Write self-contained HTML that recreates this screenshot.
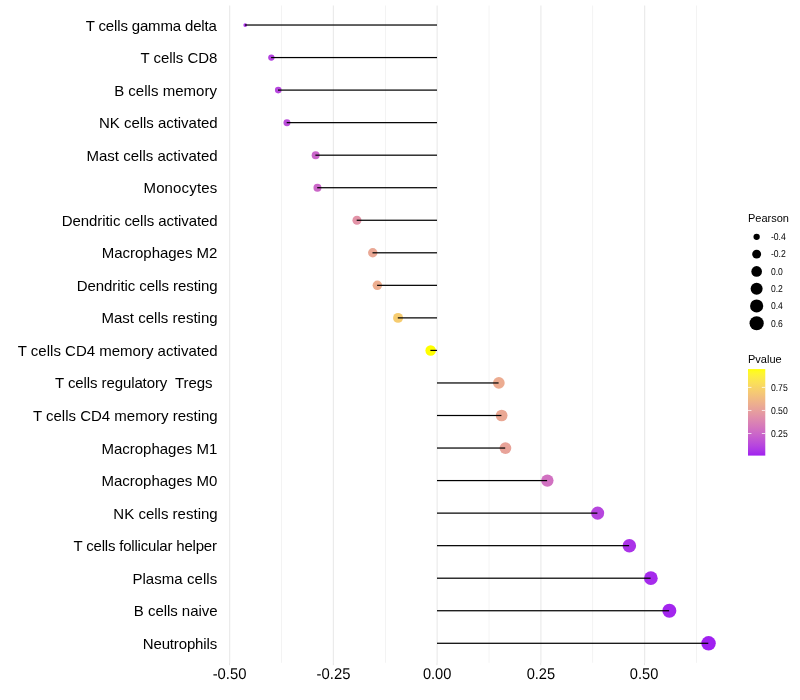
<!DOCTYPE html>
<html><head><meta charset="utf-8"><style>
html,body{margin:0;padding:0;background:#fff;}
svg{display:block;will-change:transform;}
text{font-family:"Liberation Sans",Arial,sans-serif;}
</style></head><body>
<svg width="800" height="700" viewBox="0 0 800 700">
<rect width="800" height="700" fill="#fff"/>
<g fill="#EBEBEB">
<rect x="281.225" y="5.500" width="0.600" height="657.308"/>
<rect x="384.975" y="5.500" width="0.600" height="657.308"/>
<rect x="488.725" y="5.500" width="0.600" height="657.308"/>
<rect x="592.475" y="5.500" width="0.600" height="657.308"/>
<rect x="696.225" y="5.500" width="0.600" height="657.308"/>
<rect x="229.050" y="5.500" width="1.200" height="657.308"/>
<rect x="332.800" y="5.500" width="1.200" height="657.308"/>
<rect x="436.550" y="5.500" width="1.200" height="657.308"/>
<rect x="540.300" y="5.500" width="1.200" height="657.308"/>
<rect x="644.050" y="5.500" width="1.200" height="657.308"/>
</g>
<circle cx="245.25" cy="25.02" r="1.89" fill="#AB33E8"/>
<circle cx="271.35" cy="57.56" r="3.16" fill="#B442E0"/>
<circle cx="278.25" cy="90.10" r="3.32" fill="#B746DE"/>
<circle cx="286.95" cy="122.64" r="3.49" fill="#BB4DDA"/>
<circle cx="315.65" cy="155.18" r="3.97" fill="#CA65CA"/>
<circle cx="317.45" cy="187.72" r="4.00" fill="#CB67C8"/>
<circle cx="356.95" cy="220.26" r="4.51" fill="#E293A7"/>
<circle cx="372.75" cy="252.80" r="4.69" fill="#EAA895"/>
<circle cx="377.35" cy="285.34" r="4.74" fill="#EDAE8F"/>
<circle cx="398.05" cy="317.88" r="4.96" fill="#F6CC70"/>
<circle cx="430.65" cy="350.42" r="5.27" fill="#FFFF00"/>
<circle cx="498.85" cy="382.96" r="5.84" fill="#ECAC91"/>
<circle cx="501.65" cy="415.50" r="5.86" fill="#EAA894"/>
<circle cx="505.45" cy="448.04" r="5.89" fill="#E8A399"/>
<circle cx="547.35" cy="480.58" r="6.20" fill="#D171C1"/>
<circle cx="597.65" cy="513.12" r="6.54" fill="#B645DE"/>
<circle cx="629.35" cy="545.66" r="6.75" fill="#AB33E8"/>
<circle cx="650.85" cy="578.20" r="6.88" fill="#A62BEC"/>
<circle cx="669.35" cy="610.74" r="7.00" fill="#A326EE"/>
<circle cx="708.55" cy="643.28" r="7.23" fill="#A020F0"/>
<g fill="#000">
<rect x="245.000" y="24.410" width="192.000" height="1.220"/>
<rect x="271.100" y="56.950" width="165.900" height="1.220"/>
<rect x="278.000" y="89.490" width="159.000" height="1.220"/>
<rect x="286.700" y="122.030" width="150.300" height="1.220"/>
<rect x="315.400" y="154.570" width="121.600" height="1.220"/>
<rect x="317.200" y="187.110" width="119.800" height="1.220"/>
<rect x="356.700" y="219.650" width="80.300" height="1.220"/>
<rect x="372.500" y="252.190" width="64.500" height="1.220"/>
<rect x="377.100" y="284.730" width="59.900" height="1.220"/>
<rect x="397.800" y="317.270" width="39.200" height="1.220"/>
<rect x="430.400" y="349.810" width="6.600" height="1.220"/>
<rect x="437.000" y="382.350" width="61.600" height="1.220"/>
<rect x="437.000" y="414.890" width="64.400" height="1.220"/>
<rect x="437.000" y="447.430" width="68.200" height="1.220"/>
<rect x="437.000" y="479.970" width="110.100" height="1.220"/>
<rect x="437.000" y="512.510" width="160.400" height="1.220"/>
<rect x="437.000" y="545.050" width="192.100" height="1.220"/>
<rect x="437.000" y="577.590" width="213.600" height="1.220"/>
<rect x="437.000" y="610.130" width="232.100" height="1.220"/>
<rect x="437.000" y="642.670" width="271.300" height="1.220"/>
</g>
<g font-size="15" fill="#000" text-anchor="end">
<text x="216.87" y="31.00" textLength="131.13" lengthAdjust="spacing" xml:space="preserve">T cells gamma delta</text>
<text x="217.30" y="63.00" textLength="76.69" lengthAdjust="spacing" xml:space="preserve">T cells CD8</text>
<text x="216.92" y="96.00" textLength="102.78" lengthAdjust="spacing" xml:space="preserve">B cells memory</text>
<text x="217.66" y="128.00" textLength="118.65" lengthAdjust="spacing" xml:space="preserve">NK cells activated</text>
<text x="217.66" y="161.00" textLength="131.23" lengthAdjust="spacing" xml:space="preserve">Mast cells activated</text>
<text x="217.19" y="193.00" textLength="73.71" lengthAdjust="spacing" xml:space="preserve">Monocytes</text>
<text x="217.66" y="226.00" textLength="155.92" lengthAdjust="spacing" xml:space="preserve">Dendritic cells activated</text>
<text x="217.37" y="258.00" textLength="115.63" lengthAdjust="spacing" xml:space="preserve">Macrophages M2</text>
<text x="217.67" y="291.00" textLength="140.93" lengthAdjust="spacing" xml:space="preserve">Dendritic cells resting</text>
<text x="217.67" y="323.00" textLength="116.23" lengthAdjust="spacing" xml:space="preserve">Mast cells resting</text>
<text x="217.66" y="356.00" textLength="199.86" lengthAdjust="spacing" xml:space="preserve">T cells CD4 memory activated</text>
<text x="216.54" y="388.00" textLength="161.47" lengthAdjust="spacing" xml:space="preserve">T cells regulatory  Tregs </text>
<text x="217.67" y="421.00" textLength="184.74" lengthAdjust="spacing" xml:space="preserve">T cells CD4 memory resting</text>
<text x="217.29" y="454.00" textLength="115.88" lengthAdjust="spacing" xml:space="preserve">Macrophages M1</text>
<text x="217.29" y="486.00" textLength="115.88" lengthAdjust="spacing" xml:space="preserve">Macrophages M0</text>
<text x="217.67" y="519.00" textLength="104.30" lengthAdjust="spacing" xml:space="preserve">NK cells resting</text>
<text x="216.98" y="551.00" textLength="143.43" lengthAdjust="spacing" xml:space="preserve">T cells follicular helper</text>
<text x="217.19" y="584.00" textLength="84.79" lengthAdjust="spacing" xml:space="preserve">Plasma cells</text>
<text x="217.53" y="616.00" textLength="83.68" lengthAdjust="spacing" xml:space="preserve">B cells naive</text>
<text x="217.19" y="649.00" textLength="74.45" lengthAdjust="spacing" xml:space="preserve">Neutrophils</text>
</g>
<g font-size="15.50" fill="#000" text-anchor="middle" style="text-rendering:geometricPrecision">
<text x="229.56" y="679.00" textLength="33.78" lengthAdjust="spacingAndGlyphs">-0.50</text>
<text x="333.50" y="679.00" textLength="33.81" lengthAdjust="spacingAndGlyphs">-0.25</text>
<text x="437.15" y="679.00" textLength="28.45" lengthAdjust="spacingAndGlyphs">0.00</text>
<text x="540.91" y="679.00" textLength="28.56" lengthAdjust="spacingAndGlyphs">0.25</text>
<text x="644.07" y="679.00" textLength="28.46" lengthAdjust="spacingAndGlyphs">0.50</text>
</g>
<g fill="#DEDEDE">
<rect x="229.100" y="662.808" width="0.8" height="2.392"/>
<rect x="332.850" y="662.808" width="0.8" height="2.392"/>
<rect x="436.600" y="662.808" width="0.8" height="2.392"/>
<rect x="540.350" y="662.808" width="0.8" height="2.392"/>
<rect x="644.100" y="662.808" width="0.8" height="2.392"/>
</g>
<text x="748.00" y="221.90" font-size="11" fill="#000">Pearson</text>
<circle cx="756.64" cy="236.84" r="3.16" fill="#000"/>
<text x="770.88" y="240.14" font-size="10.00" fill="#000" textLength="14.86" lengthAdjust="spacingAndGlyphs" style="text-rendering:geometricPrecision">-0.4</text>
<circle cx="756.64" cy="254.12" r="4.48" fill="#000"/>
<text x="770.88" y="257.42" font-size="10.00" fill="#000" textLength="14.86" lengthAdjust="spacingAndGlyphs" style="text-rendering:geometricPrecision">-0.2</text>
<circle cx="756.64" cy="271.40" r="5.33" fill="#000"/>
<text x="770.88" y="274.70" font-size="10.00" fill="#000" textLength="11.93" lengthAdjust="spacingAndGlyphs" style="text-rendering:geometricPrecision">0.0</text>
<circle cx="756.64" cy="288.68" r="6.00" fill="#000"/>
<text x="770.88" y="291.98" font-size="10.00" fill="#000" textLength="11.93" lengthAdjust="spacingAndGlyphs" style="text-rendering:geometricPrecision">0.2</text>
<circle cx="756.64" cy="305.96" r="6.58" fill="#000"/>
<text x="770.88" y="309.26" font-size="10.00" fill="#000" textLength="11.93" lengthAdjust="spacingAndGlyphs" style="text-rendering:geometricPrecision">0.4</text>
<circle cx="756.64" cy="323.24" r="7.10" fill="#000"/>
<text x="770.88" y="326.54" font-size="10.00" fill="#000" textLength="11.93" lengthAdjust="spacingAndGlyphs" style="text-rendering:geometricPrecision">0.6</text>
<text x="748.00" y="362.80" font-size="11" fill="#000">Pvalue</text>
<defs><linearGradient id="cb" x1="0" y1="0" x2="0" y2="1"><stop offset="0.000" stop-color="#FFFF00"/><stop offset="0.025" stop-color="#FEFA20"/><stop offset="0.050" stop-color="#FEF530"/><stop offset="0.075" stop-color="#FDF03C"/><stop offset="0.100" stop-color="#FCEB46"/><stop offset="0.125" stop-color="#FBE64E"/><stop offset="0.150" stop-color="#FBE156"/><stop offset="0.175" stop-color="#FADC5D"/><stop offset="0.200" stop-color="#F8D763"/><stop offset="0.225" stop-color="#F7D269"/><stop offset="0.250" stop-color="#F6CD6F"/><stop offset="0.275" stop-color="#F5C875"/><stop offset="0.300" stop-color="#F3C37A"/><stop offset="0.325" stop-color="#F2BE7F"/><stop offset="0.350" stop-color="#F0B984"/><stop offset="0.375" stop-color="#EFB489"/><stop offset="0.400" stop-color="#EDAF8E"/><stop offset="0.425" stop-color="#EBAA93"/><stop offset="0.450" stop-color="#E9A597"/><stop offset="0.475" stop-color="#E7A09C"/><stop offset="0.500" stop-color="#E59BA0"/><stop offset="0.525" stop-color="#E396A4"/><stop offset="0.550" stop-color="#E190A9"/><stop offset="0.575" stop-color="#DE8BAD"/><stop offset="0.600" stop-color="#DC86B1"/><stop offset="0.625" stop-color="#D981B5"/><stop offset="0.650" stop-color="#D77BB9"/><stop offset="0.675" stop-color="#D476BD"/><stop offset="0.700" stop-color="#D171C1"/><stop offset="0.725" stop-color="#CE6BC5"/><stop offset="0.750" stop-color="#CA66C9"/><stop offset="0.775" stop-color="#C760CD"/><stop offset="0.800" stop-color="#C35AD1"/><stop offset="0.825" stop-color="#C054D5"/><stop offset="0.850" stop-color="#BC4ED9"/><stop offset="0.875" stop-color="#B848DD"/><stop offset="0.900" stop-color="#B441E1"/><stop offset="0.925" stop-color="#AF3AE5"/><stop offset="0.950" stop-color="#AA33E8"/><stop offset="0.975" stop-color="#A52AEC"/><stop offset="1.000" stop-color="#A020F0"/></linearGradient></defs>
<rect x="748.00" y="369.10" width="17.28" height="86.50" fill="url(#cb)"/>
<rect x="748.00" y="386.90" width="3.46" height="1" fill="#fff" fill-opacity="0.75"/>
<rect x="761.82" y="386.90" width="3.46" height="1" fill="#fff" fill-opacity="0.75"/>
<text x="770.88" y="390.70" font-size="10.00" fill="#000" textLength="16.83" lengthAdjust="spacingAndGlyphs" style="text-rendering:geometricPrecision">0.75</text>
<rect x="748.00" y="409.95" width="3.46" height="1" fill="#fff" fill-opacity="0.75"/>
<rect x="761.82" y="409.95" width="3.46" height="1" fill="#fff" fill-opacity="0.75"/>
<text x="770.88" y="413.75" font-size="10.00" fill="#000" textLength="16.83" lengthAdjust="spacingAndGlyphs" style="text-rendering:geometricPrecision">0.50</text>
<rect x="748.00" y="433.00" width="3.46" height="1" fill="#fff" fill-opacity="0.75"/>
<rect x="761.82" y="433.00" width="3.46" height="1" fill="#fff" fill-opacity="0.75"/>
<text x="770.88" y="436.80" font-size="10.00" fill="#000" textLength="16.83" lengthAdjust="spacingAndGlyphs" style="text-rendering:geometricPrecision">0.25</text>
</svg></body></html>
